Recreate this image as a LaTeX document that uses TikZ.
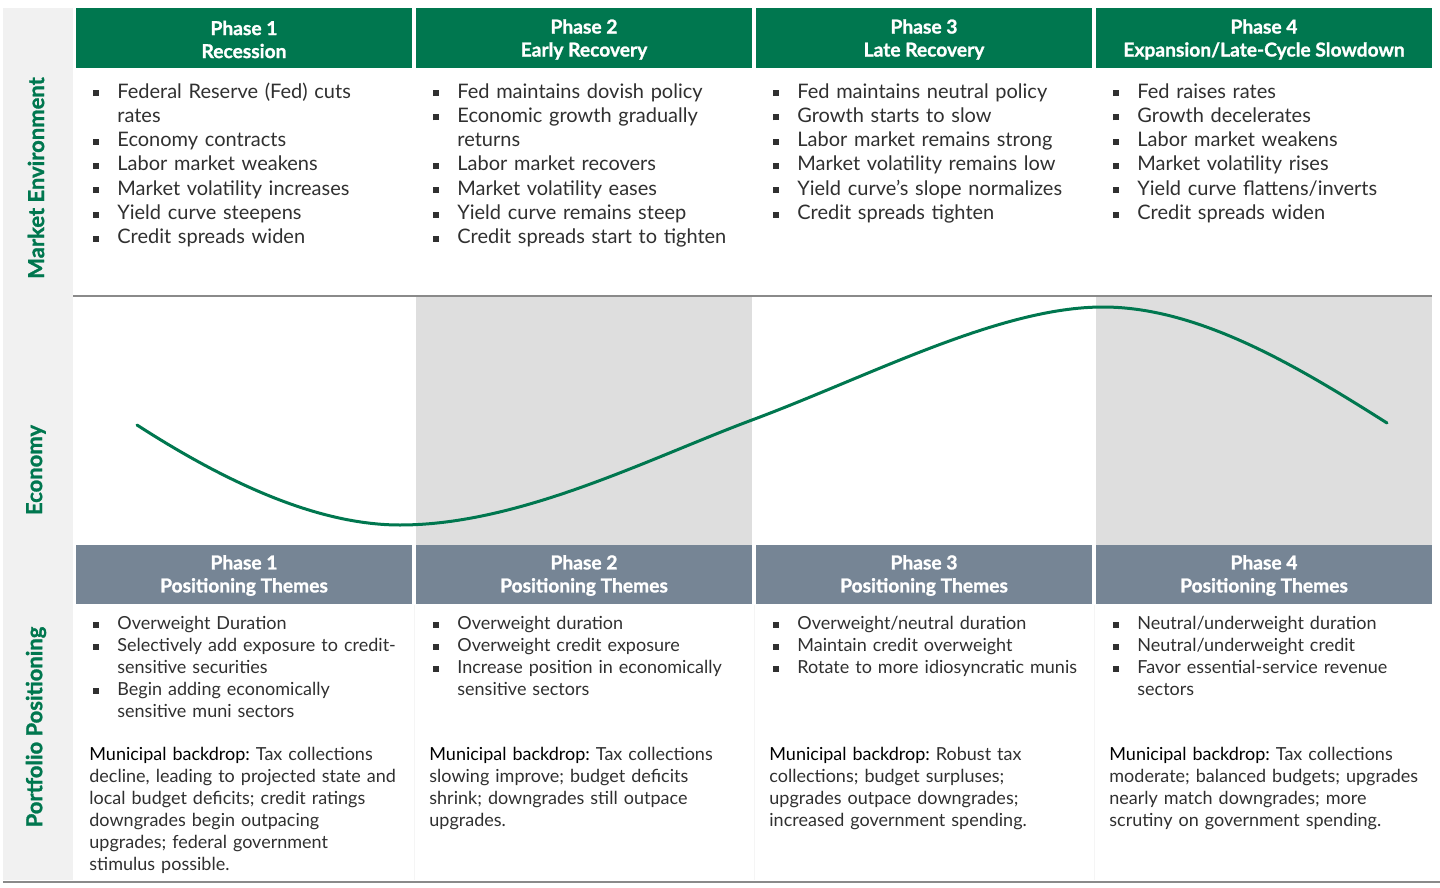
\documentclass[tikz,border=0pt]{standalone}
\usepackage{fontspec}
\setmainfont{Lato}
\newfontfamily\hdrfont{Lato}[BoldFeatures={FakeBold=1.2}]
\definecolor{hgreen}{HTML}{00774F}
\definecolor{hslate}{HTML}{768595}
\definecolor{band}{HTML}{DEDEDE}
\definecolor{side}{HTML}{F1F1F1}
\definecolor{txt}{HTML}{303030}
\definecolor{rulegray}{HTML}{8A8A8A}
\newcommand\bulx{\noindent\hangindent=12pt\hangafter=1\makebox[12pt][l]{\raisebox{1.0pt}{\rule{3pt}{3pt}}}\ignorespaces}
\newcommand\bul{\par\bulx}
\begin{document}
\begin{tikzpicture}[x=0.5pt,y=-0.5pt,
  hdr/.style={font=\hdrfont\fontsize{9.6}{11.5}\selectfont\bfseries, text=white, align=center, inner sep=0},
  sidelab/.style={font=\hdrfont\fontsize{11}{12}\selectfont\bfseries, text=hgreen, rotate=90, inner sep=0},
  envtext/.style={anchor=base west, text width=175pt, inner sep=0, font=\fontsize{10}{12.15}\selectfont\frenchspacing, text=txt},
  postext/.style={anchor=base west, text width=175pt, inner sep=0, font=\fontsize{9}{11}\selectfont\frenchspacing, text=txt},
  curve/.style={draw=hgreen, line width=1.5pt, line cap=round}
]
\useasboundingbox[fill=white] (0,0) rectangle (1440,888);
% side column
\fill[side] (3,8) rectangle (73,880);
% header bars and bands
\foreach \o in {0,340,680,1020}{
  \fill[hgreen] (76+\o,8) rectangle (412+\o,68);
  \fill[hslate] (76+\o,545) rectangle (412+\o,604);
}
\fill[band] (416,297) rectangle (752,545);
\fill[band] (1096,297) rectangle (1432,545);
\draw[rulegray, line width=1pt] (73,296) -- (1432,296);
\draw[rulegray, line width=1pt] (3,882) -- (1440,882);
\draw[black!4, line width=0.5pt] (414,605) -- (414,880) (754,605) -- (754,880) (1094,605) -- (1094,880);

% side labels
\node[sidelab] (lme) at (36,178) {Market Environment};
\node[sidelab] (lec) at (36,470) {Economy};
\node[sidelab] (lpp) at (36,727) {Portfolio Positioning};

% headers
\node[hdr] (h1) at (244,39.5) {Phase 1\\Recession};
\node[hdr] (h2) at (584,39.5) {Phase 2\\Early Recovery};
\node[hdr] (h3) at (924,39.5) {Phase 3\\Late Recovery};
\node[hdr] (h4) at (1264,39.5) {Phase 4\\Expansion/Late-Cycle Slowdown};

\node[hdr] (p1) at (244,575.5) {Phase 1\\Positioning Themes};
\node[hdr] (p2) at (584,575.5) {Phase 2\\Positioning Themes};
\node[hdr] (p3) at (924,575.5) {Phase 3\\Positioning Themes};
\node[hdr] (p4) at (1264,575.5) {Phase 4\\Positioning Themes};

% market environment text
\node[envtext] (e1) at (93,98) {\bulx Federal Reserve (Fed) cuts\newline rates
\bul Economy contracts
\bul Labor market weakens
\bul Market volatility increases
\bul Yield curve steepens
\bul Credit spreads widen\par};
\node[envtext] (e2) at (433,98) {\bulx Fed maintains dovish policy
\bul Economic growth gradually\newline returns
\bul Labor market recovers
\bul Market volatility eases
\bul Yield curve remains steep
\bul Credit spreads start to tighten\par};
\node[envtext] (e3) at (773,98) {\bulx Fed maintains neutral policy
\bul Growth starts to slow
\bul Labor market remains strong
\bul Market volatility remains low
\bul Yield curve’s slope normalizes
\bul Credit spreads tighten\par};
\node[envtext] (e4) at (1113,98) {\bulx Fed raises rates
\bul Growth decelerates
\bul Labor market weakens
\bul Market volatility rises
\bul Yield curve flattens/inverts
\bul Credit spreads widen\par};

% economy curve
\draw[curve] (137,425) .. controls (230,485) and (320,525) .. (400,525)
  .. controls (520,525) and (650,458) .. (752,420)
  .. controls (870,376) and (1000,307) .. (1103,307)
  .. controls (1200,307) and (1300,368) .. (1387,423);

% positioning text
\node[postext] (t1) at (93,629.5) {\bulx Overweight Duration
\bul Selectively add exposure to credit-\newline sensitive securities
\bul Begin adding economically\newline sensitive muni sectors\par};
\node[postext] (t2) at (433,629.5) {\bulx Overweight duration
\bul Overweight credit exposure
\bul Increase position in economically\newline sensitive sectors\par};
\node[postext] (t3) at (773,629.5) {\bulx Overweight/neutral duration
\bul Maintain credit overweight
\bul Rotate to more idiosyncratic munis\par};
\node[postext] (t4) at (1113,629.5) {\bulx Neutral/underweight duration
\bul Neutral/underweight credit
\bul Favor essential-service revenue\newline sectors\par};

\node[postext] (m1) at (89,760.5) {\noindent\textcolor{black}{Municipal backdrop:} Tax collections\\decline, leading to projected state and\\local budget deficits; credit ratings\\downgrades begin outpacing\\upgrades; federal government\\stimulus possible.};
\node[postext] (m2) at (429,760.5) {\noindent\textcolor{black}{Municipal backdrop:} Tax collections\\slowing improve; budget deficits\\shrink; downgrades still outpace\\upgrades.};
\node[postext] (m3) at (769,760.5) {\noindent\textcolor{black}{Municipal backdrop:} Robust tax\\collections; budget surpluses;\\upgrades outpace downgrades;\\increased government spending.};
\node[postext] (m4) at (1109,760.5) {\noindent\textcolor{black}{Municipal backdrop:} Tax collections\\moderate; balanced budgets; upgrades\\nearly match downgrades; more\\scrutiny on government spending.};
\end{tikzpicture}
\end{document}
